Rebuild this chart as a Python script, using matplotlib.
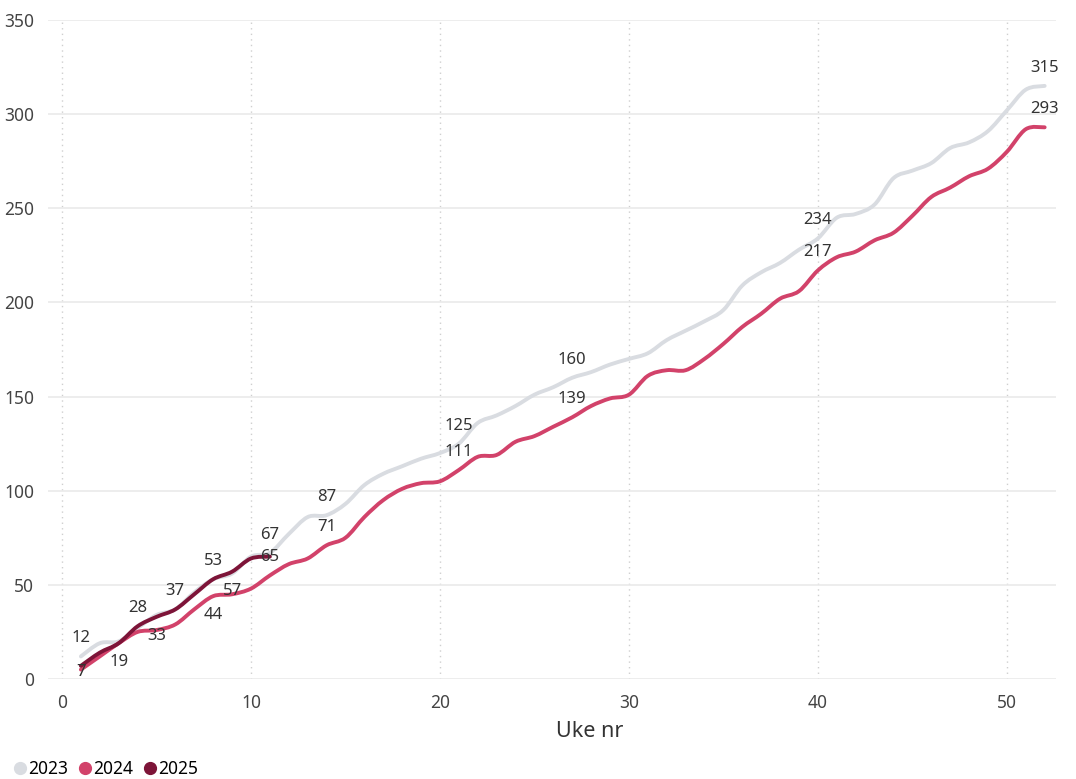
import numpy as np
import matplotlib
matplotlib.use("Agg")
import matplotlib.pyplot as plt
from matplotlib.path import Path
from matplotlib.patches import PathPatch
from matplotlib.lines import Line2D

plt.rcParams['font.family'] = ['Noto Sans', 'DejaVu Sans']

# cumulative count per week
weeks = list(range(1, 53))
y2023 = [12, 19, 20, 27, 34, 37, 46, 53, 56, 65, 67, 77, 86, 87, 93, 103, 109, 113,
         117, 120, 125, 136, 140, 145, 151, 155, 160, 163, 167, 170, 173, 180, 185,
         190, 196, 209, 216, 221, 228, 234, 245, 247, 252, 266, 270, 274, 282, 285,
         291, 302, 313, 315]
y2024 = [5, 12, 19, 25, 26, 29, 37, 44, 45, 48, 55, 61, 64, 71, 75, 86, 95, 101,
         104, 105, 111, 118, 119, 126, 129, 134, 139, 145, 149, 151, 161, 164, 164,
         170, 178, 187, 194, 202, 206, 217, 224, 227, 233, 237, 246, 256, 261, 267,
         271, 280, 292, 293]
y2025 = [7, 14, 19, 28, 33, 37, 45, 53, 57, 64, 65]

# weeks that carry a data label, and whether the label sits above or below
lab2023 = [1, 6, 8, 11, 14, 21, 27, 40, 52]
lab2024 = [(3, 'below'), (8, 'below'), (14, 'above'), (21, 'above'),
           (27, 'above'), (40, 'above'), (52, 'above')]
lab2025 = [(1, 'low'), (4, 'above'), (5, 'below'), (9, 'below'), (11, 'on')]

c2023 = '#D9DCE1'
c2024 = '#D2426A'
c2025 = '#7D1438'


def smooth_path(x, y):
    # catmull-rom through the points, as bezier segments
    pts = np.column_stack([x, y]).astype(float)
    ext = np.vstack([pts[0], pts, pts[-1]])
    verts = [pts[0]]
    codes = [Path.MOVETO]
    for i in range(len(pts) - 1):
        p0, p1, p2, p3 = ext[i], ext[i + 1], ext[i + 2], ext[i + 3]
        verts += [p1 + (p2 - p0) / 6, p2 - (p3 - p1) / 6, p2]
        codes += [Path.CURVE4] * 3
    return Path(verts, codes)


fig = plt.figure(figsize=(10.76, 7.79), dpi=100)
ax = fig.add_axes([48 / 1076, 1 - 679 / 779, 1008 / 1076, 659 / 779])

ax.set_xlim(-0.74, 52.6)
ax.set_ylim(0, 350)

for w in [0, 10, 20, 30, 40, 50]:
    ax.axvline(w, color='#CFCFCF', lw=1, ls=(0, (1, 3)), zorder=0)
for v in range(0, 351, 50):
    ax.axhline(v, color='#EAEAEA', lw=1.2, zorder=0)

for ys, col in [(y2023, c2023), (y2024, c2024), (y2025, c2025)]:
    ax.add_patch(PathPatch(smooth_path(weeks[:len(ys)], ys), facecolor='none',
                           edgecolor=col, lw=2.8, capstyle='round',
                           joinstyle='round', zorder=3))

lab_kw = dict(textcoords='offset pixels', ha='center', va='center',
              fontsize=12, color='#333333', zorder=5)
for w in lab2023:
    ax.annotate(str(y2023[w - 1]), (w, y2023[w - 1]), xytext=(0, 18), **lab_kw)
offs = {'above': 18, 'below': -19, 'low': -6, 'on': 0}
for w, pos in lab2024:
    ax.annotate(str(y2024[w - 1]), (w, y2024[w - 1]), xytext=(0, offs[pos]), **lab_kw)
for w, pos in lab2025:
    ax.annotate(str(y2025[w - 1]), (w, y2025[w - 1]), xytext=(0, offs[pos]), **lab_kw)

ax.set_xticks([0, 10, 20, 30, 40, 50])
ax.set_yticks(range(0, 351, 50))
ax.tick_params(length=0, labelsize=12.5, labelcolor='#444444')
ax.tick_params(axis='y', pad=10)
ax.tick_params(axis='x', pad=11)
for s in ax.spines.values():
    s.set_visible(False)

ax.set_xlabel('Uke nr', fontsize=15.5, color='#333333')
ax.xaxis.set_label_coords((590 - 48) / 1008, -42 / 659)

handles = [Line2D([], [], ls='none', marker='o', markersize=8.5, color=c)
           for c in [c2023, c2024, c2025]]
fig.legend(handles, ['2023', '2024', '2025'], loc='lower left',
           bbox_to_anchor=(-0.006, -0.019), ncol=3, frameon=False, fontsize=12.5,
           handletextpad=-0.1, columnspacing=0.35, handlelength=1.2)

fig.savefig('out.png', dpi=100)
